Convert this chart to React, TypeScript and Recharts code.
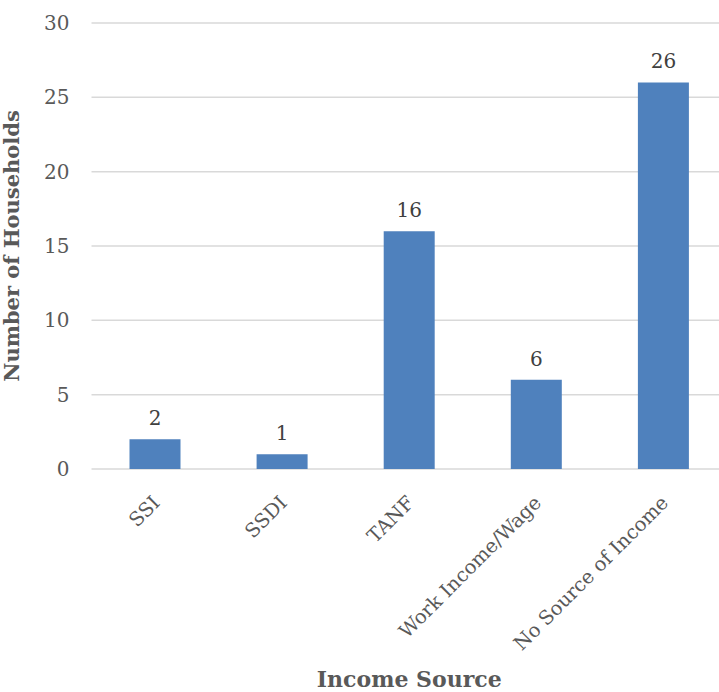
import { Bar, BarChart, CartesianGrid, LabelList, XAxis, YAxis } from 'recharts';

const categories = ['SSI', 'SSDI', 'TANF', 'Work Income/Wage', 'No Source of Income'];
const households = [2, 1, 16, 6, 26];
const yTicks = [0, 5, 10, 15, 20, 25, 30];

const data = categories.map((name, i) => ({ name, households: households[i] }));

const FONT = '"DejaVu Serif", serif';

function CategoryTick({ x, y, payload }: any) {
  return (
    <g transform={`translate(${x + 6},${y + 27})`}>
      <text textAnchor="end" transform="rotate(-45)" fill="#595959" fontSize={19.5} fontFamily={FONT}>
        {payload.value}
      </text>
    </g>
  );
}

export default function App() {
  return (
    <div style={{ position: 'absolute', left: 0, top: 0, width: 719, height: 692, overflow: 'hidden', background: '#fff' }}>
      <BarChart width={727} height={692} data={data} margin={{ top: 23, right: 0, left: 0, bottom: 0 }} barSize={51}>
        <CartesianGrid vertical={false} stroke="#D9D9D9" strokeWidth={1.5} />
        <XAxis
          dataKey="name"
          height={223}
          interval={0}
          axisLine={false}
          tickLine={false}
          tick={<CategoryTick />}
          label={{ value: 'Income Source', position: 'insideBottom', offset: 5, fill: '#595959', fontSize: 22, fontWeight: 'bold', fontFamily: FONT }}
        />
        <YAxis
          width={91.5}
          domain={[0, 30]}
          ticks={yTicks}
          axisLine={false}
          tickLine={false}
          tickSize={0}
          tickMargin={22}
          tick={{ fill: '#595959', fontSize: 20, fontFamily: FONT }}
          label={{ value: 'Number of Households', angle: -90, position: 'insideLeft', offset: 12, fill: '#595959', fontSize: 21, fontWeight: 'bold', fontFamily: FONT, style: { textAnchor: 'middle' } }}
        />
        <Bar dataKey="households" fill="#4F81BD" isAnimationActive={false}>
          <LabelList dataKey="households" position="top" offset={14} fill="#404040" fontSize={20} fontFamily={FONT} />
        </Bar>
      </BarChart>
    </div>
  );
}
